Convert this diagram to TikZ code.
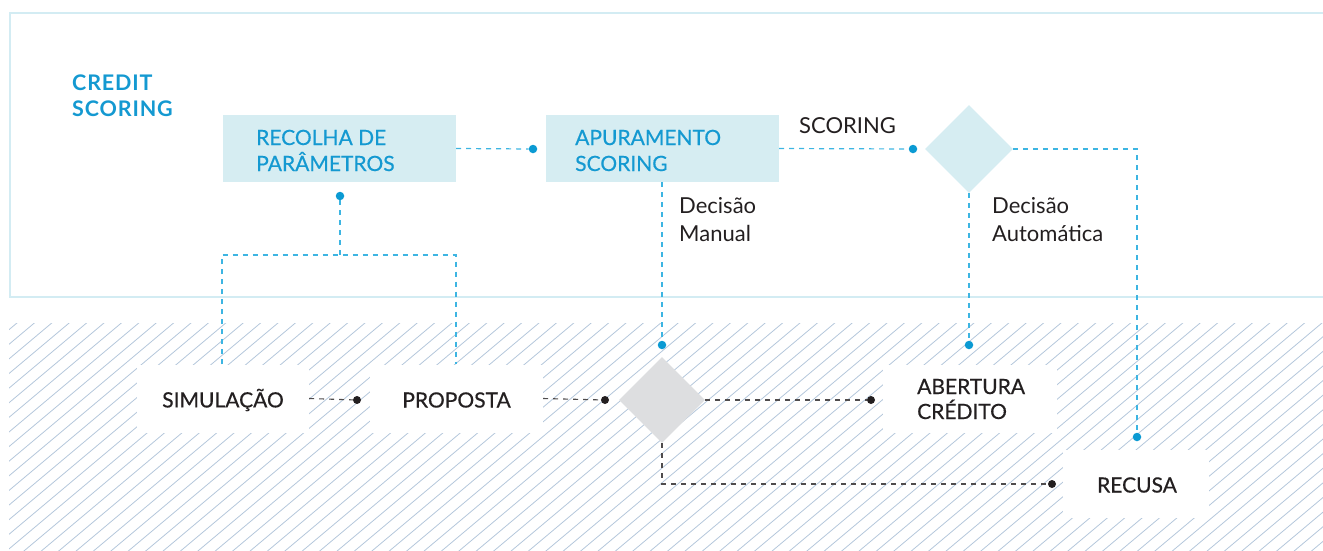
\documentclass[tikz,border=0pt]{standalone}
\usepackage{fontspec}
\setmainfont{Lato}
\newfontfamily\medfont{Lato}[FakeBold=0.5]
\newfontfamily\ttlfont{Lato Bold}[LetterSpace=4]
\usetikzlibrary{shapes.geometric}
\definecolor{boxblue}{HTML}{D6EDF2}
\definecolor{txtblue}{HTML}{1499D1}
\definecolor{lineblue}{HTML}{3DB5E2}
\definecolor{dotblue}{HTML}{0B9AD3}
\definecolor{frameblue}{HTML}{D3ECF3}
\definecolor{hatchcol}{HTML}{B4C7DB}
\definecolor{graydia}{HTML}{DDDEE0}
\definecolor{darkline}{HTML}{231F20}
\tikzset{
  x=1pt, y=-1pt,
  bluebox/.style={rectangle, fill=boxblue, inner sep=0, minimum width=233, minimum height=67},
  whitebox/.style={rectangle, fill=white, inner sep=0, minimum height=68},
  boxtext/.style={inner sep=0, anchor=base west, align=left, font=\fontsize{21}{26}\selectfont\medfont},
  btext/.style={inner sep=0, font=\fontsize{21}{25}\selectfont\medfont, text=darkline},
  plain/.style={inner sep=0, anchor=base west, align=left, font=\fontsize{22}{28}\selectfont, text=darkline},
  bdash/.style={draw=lineblue, line width=1.2pt, dash pattern=on 5pt off 5pt},
  kdash/.style={draw=darkline!80, line width=1.1pt, dash pattern=on 5pt off 5pt},
  bdot/.style={circle, fill=dotblue, inner sep=0, minimum size=8.5},
  kdot/.style={circle, fill=darkline, inner sep=0, minimum size=8},
}
\begin{document}
\begin{tikzpicture}
\useasboundingbox (0,0) rectangle (1323,550);
% top frame
\draw[frameblue, line width=1.6pt] (1323,13) -- (10,13) -- (10,297) -- (1323,297);
% hatched area
\begin{scope}
\clip (9,323) rectangle (1323,550);
\foreach \k in {0,...,100} {
  \draw[hatchcol, line width=0.8pt] ({-300+\k*17.4},560) -- ({-300+\k*17.4+300},{560-252});
}
\end{scope}
% title
\node[inner sep=0, anchor=base west, align=left, text=txtblue, font=\fontsize{21.5}{26}\selectfont\ttlfont] (title) at (72,116) {CREDIT\\SCORING};
% top nodes
\node[bluebox] (rec) at (339.5,148.5) {};
\node[boxtext, text=txtblue] (rect) at (256,171) {RECOLHA DE\\PARÂMETROS};
\node[bluebox] (apu) at (662.5,148.5) {};
\node[boxtext, text=txtblue] (aput) at (575,171) {APURAMENTO\\SCORING};
\node[diamond, fill=boxblue, inner sep=0, minimum width=88, minimum height=88] (bdia) at (969,149) {};
\node[plain] (scor) at (799,133) {SCORING};
\node[plain] (dman) at (679,241) {Decisão\\Manual};
\node[plain] (daut) at (992,241) {Decisão\\Automática};
% bottom nodes
\node[whitebox, minimum width=172] (sim) at (223,398.5) {};
\node[btext] (simt) at (223,400) {SIMULAÇÃO};
\node[whitebox, minimum width=173] (prop) at (456.5,398.5) {};
\node[btext] (propt) at (456.5,400) {PROPOSTA};
\node[diamond, fill=graydia, inner sep=0, minimum width=86, minimum height=86] (gdia) at (662,400) {};
\node[whitebox, minimum width=174] (aber) at (970,398.5) {};
\node[btext, align=left, anchor=base west] (abert) at (917,419) {ABERTURA\\CRÉDITO};
\node[whitebox, minimum width=146] (rcs) at (1136,484) {};
\node[btext] (rcst) at (1137,485) {RECUSA};
% dots
\node[bdot] (d1) at (533,149) {};
\node[bdot] (d2) at (913,149) {};
\node[bdot] (d3) at (340,196) {};
\node[bdot] (d4) at (662,345) {};
\node[bdot] (d5) at (969,345) {};
\node[bdot] (d6) at (1137,437) {};
\node[kdot] (k1) at (357,400) {};
\node[kdot] (k2) at (605,400) {};
\node[kdot] (k3) at (871,400) {};
\node[kdot] (k4) at (1052,484) {};
\coordinate (tl) at (222,255);
\coordinate (tr) at (456,255);
\coordinate (tm) at (340,255);
\coordinate (rc) at (1137,149);
\coordinate (gb) at (662,484);
% blue connectors
\draw[bdash] (rec.east) -- (d1);
\draw[bdash] (apu.east) -- (d2);
\draw[bdash] (bdia.east) -- (rc) -- (d6);
\draw[bdash] (bdia.south) -- (d5);
\draw[bdash] (apu.south -| d4) -- (d4);
\draw[bdash] (d3) -- (tm);
\draw[bdash] (sim.north -| tl) -- (tl) -- (tr) -- (prop.north -| tr);
% dark connectors
\draw[kdash] (sim.east) -- (k1);
\draw[kdash] (prop.east) -- (k2);
\draw[kdash] (gdia.east) -- (k3);
\draw[kdash] (gdia.south) -- (gb) -- (k4);
\end{tikzpicture}
\end{document}
